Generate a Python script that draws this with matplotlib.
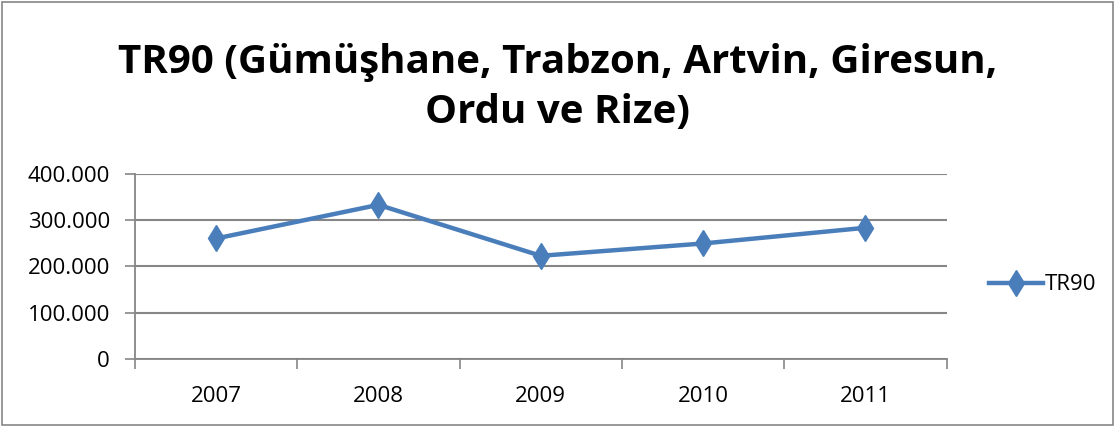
import matplotlib.pyplot as plt
from matplotlib.patches import Rectangle
from matplotlib.ticker import FuncFormatter, FixedLocator

plt.rcParams['font.family'] = ['Open Sans', 'DejaVu Sans']

# Veriler
yillar = ["2007", "2008", "2009", "2010", "2011"]
tr90 = [260400, 333000, 223000, 249600, 283500]
y_ticks = [0, 100000, 200000, 300000, 400000]

renk = "#4A7EBB"
gri = "#868686"

fig = plt.figure(figsize=(11.15, 4.26), dpi=100)
ax = fig.add_axes([0.121, 0.157, 0.728, 0.435])

x = list(range(len(yillar)))
ax.plot(x, tr90, color=renk, linewidth=3.2, marker="d", markersize=13,
        label="TR90", solid_joinstyle="round")

ax.set_xlim(-0.5, len(yillar) - 0.5)
ax.set_ylim(0, 400000)
ax.set_yticks(y_ticks)
ax.yaxis.set_major_formatter(FuncFormatter(
    lambda v, p: "0" if v == 0 else f"{int(v):,}".replace(",", ".")))
ax.grid(axis="y", color=gri, linewidth=1.5)
ax.set_axisbelow(True)

# kategori sınırlarında tik çizgileri
ax.set_xticks(x)
ax.set_xticklabels(yillar)
ax.xaxis.set_minor_locator(FixedLocator([i - 0.5 for i in range(len(yillar) + 1)]))
ax.tick_params(axis="x", which="major", length=0, pad=19, labelsize=16)
ax.tick_params(axis="x", which="minor", length=7, color=gri, width=1.2)
ax.tick_params(axis="y", length=7, color=gri, width=1.2, labelsize=16, pad=11)

for s in ["top", "right"]:
    ax.spines[s].set_visible(False)
for s in ["left", "bottom"]:
    ax.spines[s].set_color(gri)
    ax.spines[s].set_linewidth(1.3)

fig.suptitle("TR90 (Gümüşhane, Trabzon, Artvin, Giresun,\nOrdu ve Rize)",
             fontsize=29, fontweight="bold", y=0.9, va="top",
             linespacing=1.38)

ax.legend(loc="center left", bbox_to_anchor=(1.028, 0.4), frameon=False,
          fontsize=16, handlelength=2.4, handletextpad=0.1)

fig.add_artist(Rectangle((0.002, 0.003), 0.996, 0.993, transform=fig.transFigure,
                         fill=False, edgecolor=gri, linewidth=1.2))

fig.savefig("out.png", dpi=100)
